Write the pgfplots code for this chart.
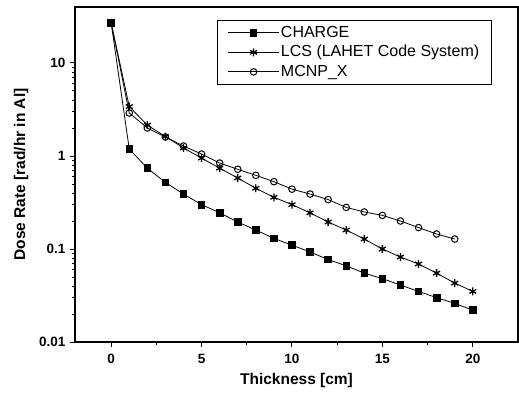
\documentclass[border=0pt]{standalone}
\usepackage{pgfplots}
\pgfplotsset{compat=1.18}
\usepackage{fontspec}
\setmainfont{Liberation Sans}
\begin{document}
\begin{tikzpicture}
\begin{axis}[
  scale only axis,
  width=443bp, height=335bp,
  ymode=log,
  xmin=-2, xmax=22.5,
  ymin=0.01, ymax=40,
  xtick={0,5,10,15,20},
  minor xtick={2.5,7.5,12.5,17.5},
  ytick={0.01,0.1,1,10},
  yticklabels={0.01,0.1,1,10},
  tick align=outside,
  xtick pos=left, ytick pos=left,
  major tick length=5bp, minor tick length=3bp,
  axis line style={line width=1.2pt},
  tick style={line width=1pt, black},
  ticklabel style={font=\fontsize{13.5bp}{15bp}\selectfont\bfseries},
  xticklabel style={yshift=-4bp},
  yticklabel style={xshift=-1bp},
  /pgf/number format/assume math mode=true,
  xlabel={Thickness [cm]},
  ylabel={Dose Rate [rad/hr in Al]},
  label style={font=\fontsize{15.5bp}{17bp}\selectfont\bfseries},
  xlabel style={yshift=-2bp},
  ylabel style={yshift=4bp},
  legend style={at={(rel axis cs:0.32,0.962)}, anchor=north west,
    font=\fontsize{16bp}{18bp}\selectfont, draw=black, line width=0.8pt,
    inner xsep=10bp, inner ysep=3bp, row sep=0bp,
    nodes={text height=12bp, text depth=3.5bp, inner ysep=2bp}},
  legend cell align=left,
  legend image code/.code={%
    \path (0bp,0bp) -- (51bp,0bp);
    \draw[mark repeat=2,mark phase=2] plot coordinates {(4bp,0bp) (26bp,0bp) (48bp,0bp)};},
  every axis plot/.append style={black, line width=0.8pt},
]
\addplot[mark=square*, mark size=3.3pt] coordinates {
(0,27) (1,1.19) (2,0.74) (3,0.52) (4,0.39) (5,0.30) (6,0.245) (7,0.195)
(8,0.16) (9,0.13) (10,0.11) (11,0.093) (12,0.077) (13,0.066) (14,0.055)
(15,0.048) (16,0.041) (17,0.035) (18,0.030) (19,0.026) (20,0.022)};
\addlegendentry{CHARGE}
\addplot[mark=asterisk, mark size=4pt, mark options={line width=1.3pt}] coordinates {
(0,27) (1,3.4) (2,2.15) (3,1.62) (4,1.22) (5,0.95) (6,0.74) (7,0.58)
(8,0.45) (9,0.36) (10,0.30) (11,0.245) (12,0.195) (13,0.16) (14,0.128)
(15,0.10) (16,0.082) (17,0.069) (18,0.055) (19,0.043) (20,0.035)};
\addlegendentry{LCS (LAHET Code System)}
\addplot[mark=o, mark size=3.3pt, mark options={fill=white, line width=1pt}] coordinates {
(0,27) (1,2.9) (2,2.0) (3,1.6) (4,1.28) (5,1.05) (6,0.84) (7,0.72)
(8,0.62) (9,0.53) (10,0.44) (11,0.39) (12,0.34) (13,0.28) (14,0.25)
(15,0.23) (16,0.20) (17,0.17) (18,0.145) (19,0.128)};
\addlegendentry{MCNP\_X}
\end{axis}
\pgfresetboundingbox
\path ([xshift=-75bp,yshift=-55bp]current axis.south west) rectangle ([xshift=1bp,yshift=7bp]current axis.north east);
\end{tikzpicture}
\end{document}
